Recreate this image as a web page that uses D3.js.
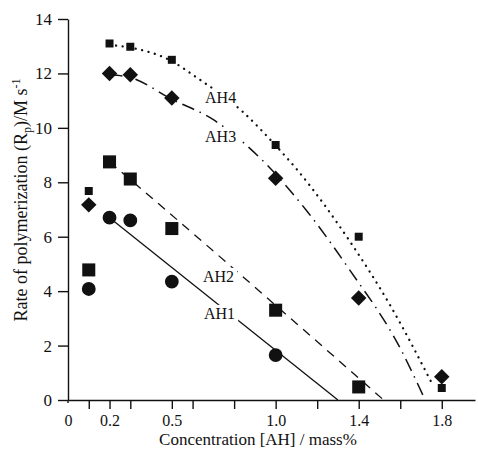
<!DOCTYPE html>
<html>
<head>
<meta charset="utf-8">
<script src="https://cdn.jsdelivr.net/npm/d3@7"></script>
<style>
  body { margin: 0; background: #fff; }
  svg text { font-family: "Liberation Serif", "DejaVu Serif", serif; fill: #111; }
</style>
</head>
<body>
<div id="root"></div>
<script>
// concentrations [AH] / mass%
const conc = [0.1, 0.2, 0.3, 0.5, 1.0, 1.4, 1.8];

// measured rates Rp (null = no point)
const ah1 = [4.08, 6.7, 6.6, 4.35, 1.65, null, null];
const ah2 = [4.78, 8.75, 8.12, 6.3, 3.3, 0.48, null];
const ah3 = [7.17, 12.0, 11.95, 11.1, 8.15, 3.75, 0.85];
const ah4 = [7.68, 13.1, 12.98, 12.5, 9.37, 6.0, 0.44];

// fitted curves [x, y]
const ah1Fit = [[0.2, 6.7], [1.3, 0]];
const ah2Fit = [[0.2, 8.75], [0.3, 8.1], [1.52, 0]];
const ah3Fit = [[0.2, 11.95], [0.3, 11.85], [0.5, 11.05], [0.7, 10.3], [0.95, 8.7],
  [1.155, 6.9], [1.35, 4.85], [1.6, 1.9], [1.72, 0]];
const ah4Fit = [[0.2, 13.05], [0.3, 12.95], [0.5, 12.45], [0.61, 11.9], [0.84, 10.6],
  [1.0, 9.35], [1.11, 8.4], [1.36, 5.8], [1.55, 3.5], [1.76, 0.5]];

const xTicks = [0.1, 0.2, 0.3, 0.5, 0.6, 0.8, 1.0, 1.2, 1.4, 1.6, 1.8];
const xLabels = ['0', '0.2', '0.5', '1.0', '1.4', '1.8'];
const yLabels = [0, 2, 4, 6, 8, 10, 12, 14];

const w = 478;
const h = 452;

const xScale = d3.scaleLinear().domain([0, 1.96]).range([68, 475]);
const yScale = d3.scaleLinear().domain([0, 14]).range([400, 19]);

const svg = d3.select('#root')
  .append('svg')
  .attr('width', w)
  .attr('height', h);

// axes
svg.append('g')
  .attr('transform', `translate(0, ${yScale(0)})`)
  .call(d3.axisBottom(xScale).tickValues(xTicks).tickFormat('').tickSize(9).tickSizeOuter(0));

svg.append('g')
  .attr('transform', `translate(0, ${yScale(0)})`)
  .call(d3.axisBottom(xScale).tickValues(xLabels.map(Number)).tickFormat((d, i) => xLabels[i])
    .tickSize(0).tickPadding(15))
  .call(g => g.select('.domain').remove())
  .selectAll('text')
  .style('font-size', '16px');

const yAxis = svg.append('g')
  .attr('transform', `translate(${xScale(0)}, 0)`)
  .call(d3.axisLeft(yScale).tickValues(yLabels).tickSize(10).tickPadding(6).tickSizeOuter(0));
yAxis.selectAll('text').style('font-size', '17px');

svg.selectAll('.domain, .tick line')
  .attr('stroke', '#111')
  .attr('stroke-width', 1.4);

// small overshoot of the y axis below the x axis
svg.append('line')
  .attr('x1', xScale(0)).attr('x2', xScale(0))
  .attr('y1', yScale(0)).attr('y2', yScale(0) + 3)
  .attr('stroke', '#111').attr('stroke-width', 1.4);

// axis titles
svg.append('text')
  .attr('x', 258)
  .attr('y', 445)
  .attr('text-anchor', 'middle')
  .style('font-size', '17px')
  .text('Concentration [AH] / mass%');

const yTitle = svg.append('text')
  .attr('transform', 'translate(27, 200) rotate(-90)')
  .attr('text-anchor', 'middle')
  .style('font-size', '18px');
yTitle.append('tspan').text('Rate of polymerization (R');
yTitle.append('tspan').attr('dy', 4).style('font-size', '12px').text('p');
yTitle.append('tspan').attr('dy', -4).text(')/M s');
yTitle.append('tspan').attr('dy', -7).style('font-size', '12px').text('-1');

// fitted lines
const line = d3.line()
  .x(d => xScale(d[0]))
  .y(d => yScale(d[1]))
  .curve(d3.curveMonotoneX);

const fits = [
  { data: ah1Fit, dash: null, width: 1.3, cap: 'butt' },
  { data: ah2Fit, dash: '9 7', width: 1.3, cap: 'butt' },
  { data: ah3Fit, dash: '13 6 1.5 6', width: 1.5, cap: 'butt' },
  { data: ah4Fit, dash: '0.1 6.5', width: 2.3, cap: 'round' }
];

svg.selectAll('path.fit')
  .data(fits)
  .enter()
  .append('path')
  .attr('class', 'fit')
  .attr('d', d => line(d.data))
  .attr('fill', 'none')
  .attr('stroke', '#111')
  .attr('stroke-width', d => d.width)
  .attr('stroke-dasharray', d => d.dash)
  .attr('stroke-linecap', d => d.cap);

// markers
const series = [
  { values: ah1, symbol: d3.symbolCircle, size: 150, rotate: 0 },
  { values: ah2, symbol: d3.symbolSquare, size: 170, rotate: 0 },
  { values: ah3, symbol: d3.symbolSquare, size: 120, rotate: 45 },
  { values: ah4, symbol: d3.symbolSquare, size: 64, rotate: 0 }
];

series.forEach(s => {
  const pts = conc.map((c, i) => [c, s.values[i]]).filter(p => p[1] !== null);
  svg.append('g')
    .selectAll('path')
    .data(pts)
    .enter()
    .append('path')
    .attr('d', d3.symbol().type(s.symbol).size(s.size))
    .attr('transform', d => `translate(${xScale(d[0])}, ${yScale(d[1])}) rotate(${s.rotate})`)
    .attr('fill', '#111');
});

// series labels (baseline position in data units), lines are broken under them
const seriesLabels = ['AH1', 'AH2', 'AH3', 'AH4'];
const labelPos = [[0.655, 2.98], [0.65, 4.34], [0.66, 9.49], [0.66, 10.92]];

const labels = svg.selectAll('g.series')
  .data(seriesLabels)
  .enter()
  .append('g')
  .attr('class', 'series');

labels.append('text')
  .attr('x', (d, i) => xScale(labelPos[i][0]))
  .attr('y', (d, i) => yScale(labelPos[i][1]))
  .style('font-size', '16px')
  .text(d => d);

labels.each(function() {
  const g = d3.select(this);
  const b = g.select('text').node().getBBox();
  g.insert('rect', 'text')
    .attr('x', b.x - 3)
    .attr('y', b.y)
    .attr('width', b.width + 6)
    .attr('height', b.height)
    .attr('fill', '#fff');
});
</script>
</body>
</html>
